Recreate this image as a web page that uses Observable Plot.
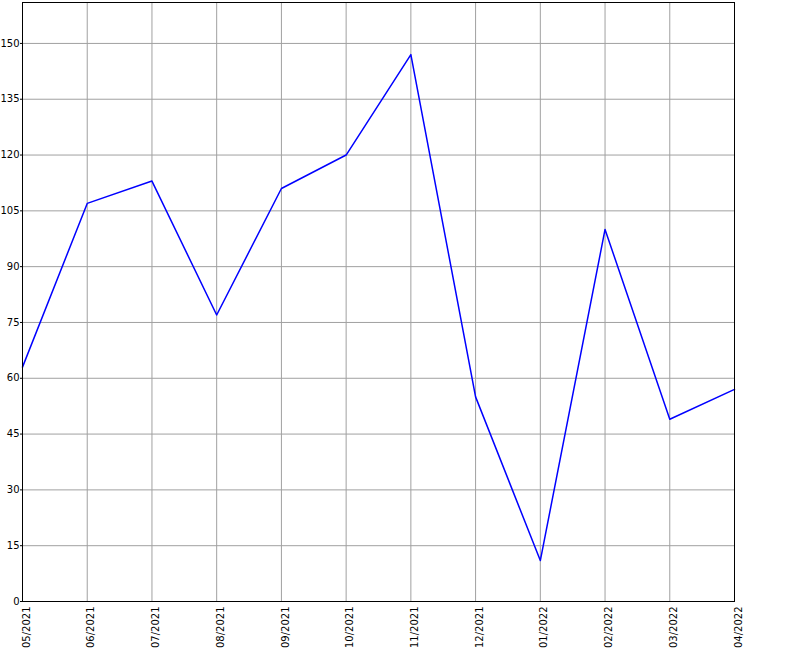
<!DOCTYPE html>
<html>
<head>
<meta charset="utf-8">
<script src="https://cdn.jsdelivr.net/npm/d3@7"></script>
<script src="https://cdn.jsdelivr.net/npm/@observablehq/plot@0.6"></script>
<style>
  html, body { margin: 0; padding: 0; background: #fff; overflow: hidden; }
  #chart svg { display: block; max-width: none !important; }
</style>
</head>
<body>
<div id="chart"></div>
<script>
const months = ["05/2021","06/2021","07/2021","08/2021","09/2021","10/2021","11/2021","12/2021","01/2022","02/2022","03/2022","04/2022"];
const values = [63, 107, 113, 77, 111, 120, 147, 55, 11, 100, 49, 57];
const yTicks = [0, 15, 30, 45, 60, 75, 90, 105, 120, 135, 150];

const data = months.map((m, i) => ({month: m, value: values[i]}));

const chart = Plot.plot({
  width: 800,
  height: 650,
  marginLeft: 22,
  marginRight: 66,
  marginTop: 2,
  marginBottom: 49,
  x: {type: "point", domain: months, padding: 0, round: false},
  y: {domain: [0, 161]},
  style: {fontFamily: "DejaVu Sans, sans-serif", fontSize: "10px", color: "black", background: "white"},
  marks: [
    Plot.gridX(months, {stroke: "#a0a0a0", strokeOpacity: 1}),
    Plot.gridY(yTicks, {stroke: "#a0a0a0", strokeOpacity: 1}),
    Plot.axisY(yTicks, {tickSize: 2, tickPadding: 1, label: null}),
    Plot.axisX(months, {rotate: -90, tickSize: 0, tickPadding: 5, label: null, textAnchor: "end"}),
    Plot.line(data, {x: "month", y: "value", stroke: "#0000ff", strokeWidth: 1.5}),
    Plot.frame({stroke: "black"})
  ]
});
document.getElementById("chart").appendChild(chart);
</script>
</body>
</html>
